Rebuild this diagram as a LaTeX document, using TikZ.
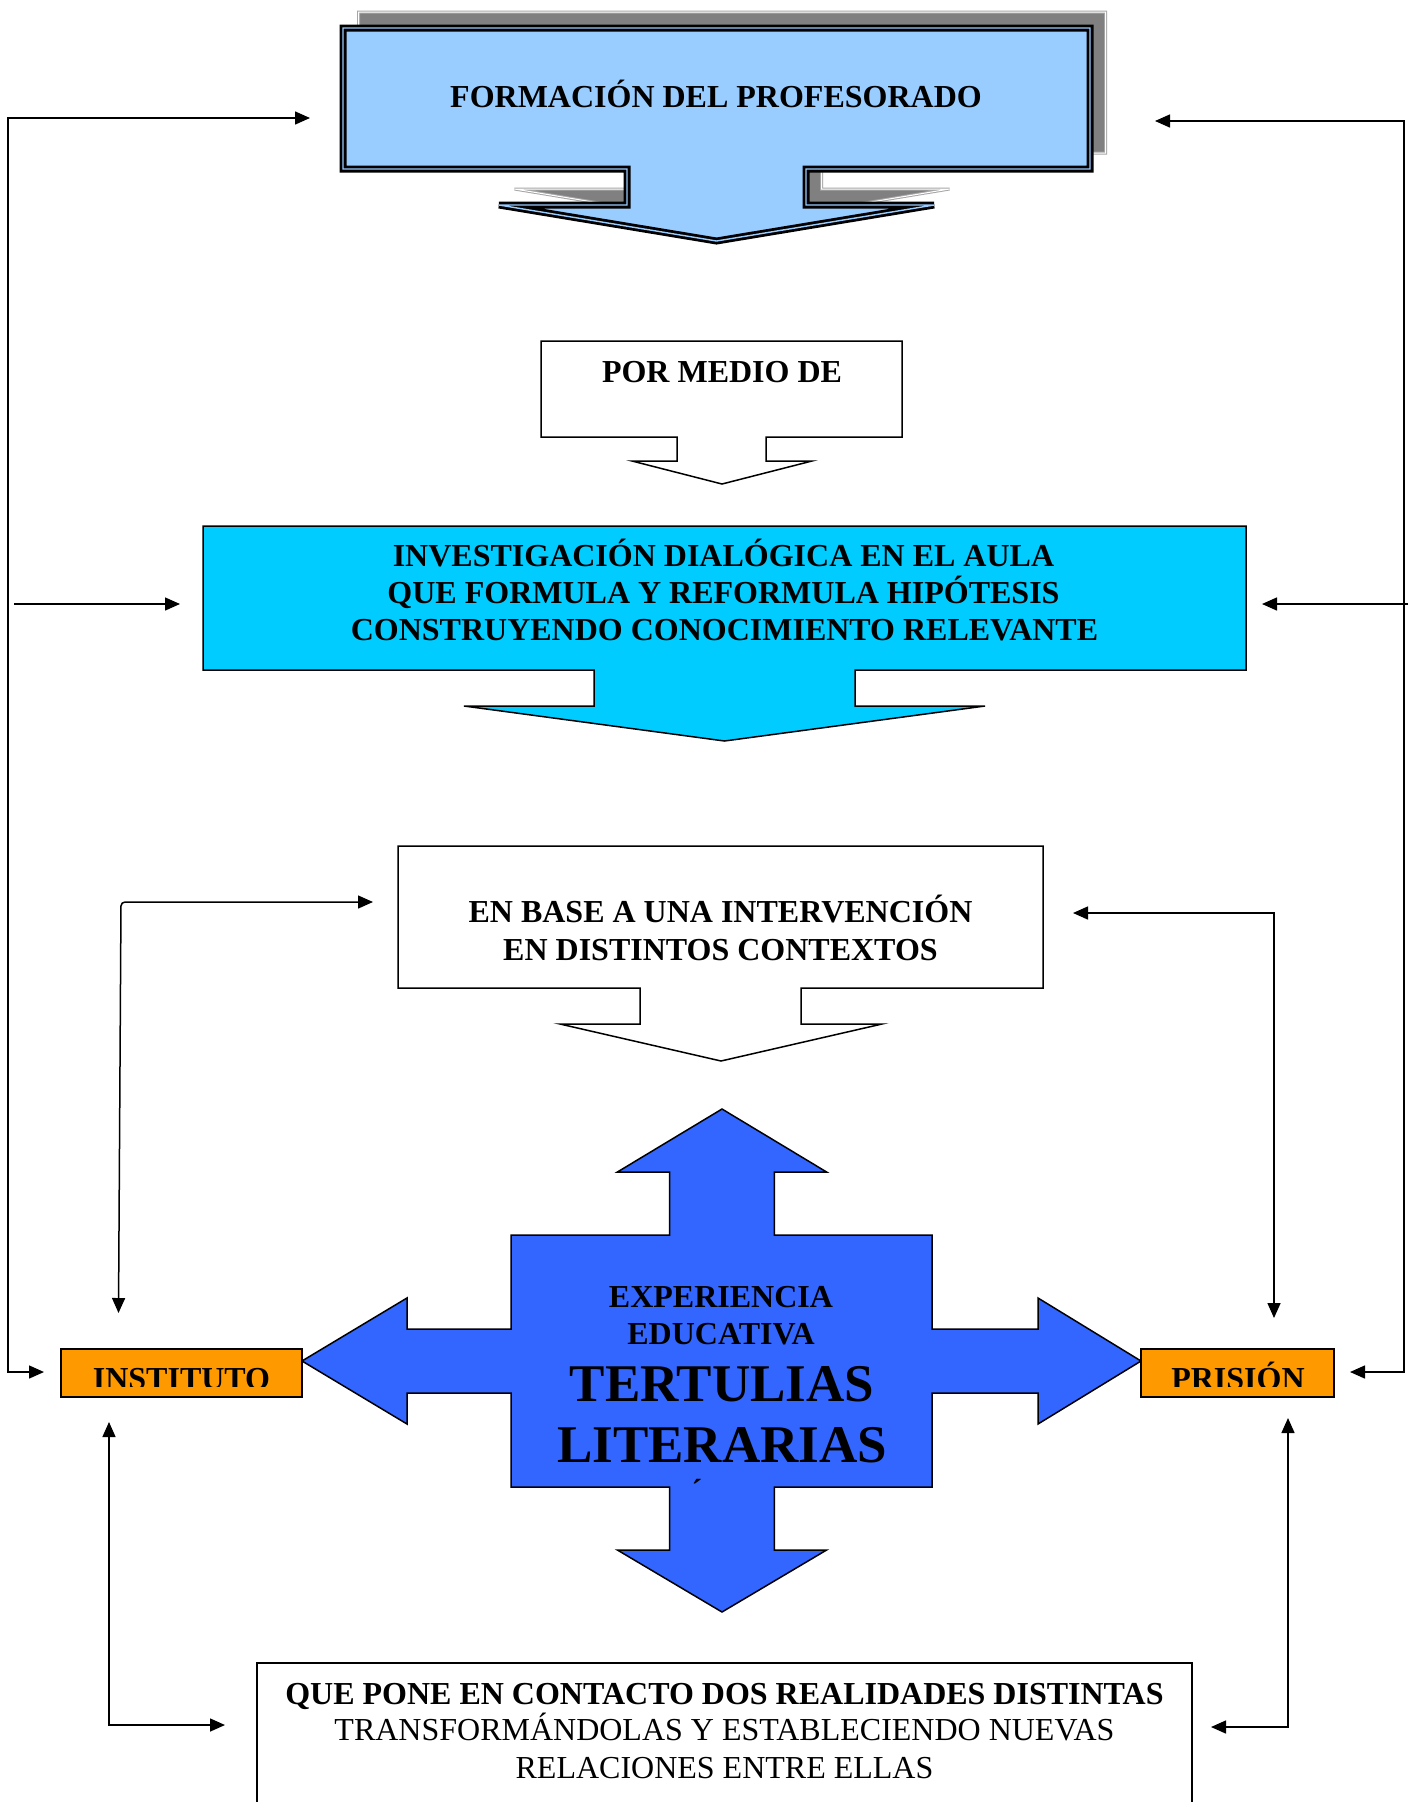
\documentclass[tikz,border=0pt]{standalone}
\usepackage{fontspec}
\setmainfont{Liberation Serif}
\usetikzlibrary{arrows.meta,calc}
\definecolor{callblue}{HTML}{99CCFF}
\definecolor{cyanbox}{HTML}{00CCFF}
\definecolor{crossblue}{HTML}{3366FF}
\definecolor{orangebox}{HTML}{FF9900}
\definecolor{shadowgray}{HTML}{808080}
\begin{document}
\begin{tikzpicture}[x=1pt,y=-1pt,
  conn/.style={line width=1.5pt,-{Triangle[length=15pt,width=13pt]}},
  biconn/.style={line width=1.5pt,{Triangle[length=15pt,width=13pt]}-{Triangle[length=15pt,width=13pt]}},
  plainshape/.style={draw=black,line width=1.5pt,line join=miter},
  txt/.style={font=\bfseries\fontsize{32}{38}\selectfont,anchor=base,inner sep=0pt},
  txtreg/.style={font=\fontsize{32}{38}\selectfont,anchor=base,inner sep=0pt},
  bigtxt/.style={font=\bfseries\fontsize{53}{60}\selectfont,anchor=base,inner sep=0pt},
  orangenode/.style={draw=black,fill=orangebox,line width=1.5pt,inner sep=0pt}
]
\clip (0,0) rectangle (1418,1802);
\fill[white] (0,0) rectangle (1418,1802);

% ---------- top callout: FORMACION DEL PROFESORADO ----------
\begin{scope}[shift={(15.5,-16)}]
\path[fill=shadowgray,draw=black!35,double=white,line width=1pt,double distance=1pt]
  (343,28) -- (1090,28) -- (1090,169) -- (806,169) -- (806,205) -- (934,205)
  -- (716.5,241) -- (499,205) -- (627,205) -- (627,169) -- (343,169) -- cycle;
\end{scope}
\path[fill=callblue,draw=black,double=callblue,line width=2.8pt,double distance=1.4pt,line join=miter]
  (343,28) -- (1090,28) -- (1090,169) -- (806,169) -- (806,205) -- (934,205)
  -- (716.5,241) -- (499,205) -- (627,205) -- (627,169) -- (343,169) -- cycle;
\node[txt] (tform) at (716,107) {FORMACIÓN DEL PROFESORADO};
\coordinate (form) at (716.5,98.5);

% ---------- POR MEDIO DE ----------
\path[plainshape,fill=white]
  (541,341) -- (902,341) -- (902,437) -- (766,437) -- (766,461) -- (812,461)
  -- (722,484) -- (632,461) -- (677,461) -- (677,437) -- (541,437) -- cycle;
\node[txt] (tpor) at (722,382) {POR MEDIO DE};

% ---------- INVESTIGACION ----------
\path[plainshape,fill=cyanbox]
  (203,526) -- (1246,526) -- (1246,670) -- (855,670) -- (855,706) -- (985,706)
  -- (724.5,741) -- (464,706) -- (594,706) -- (594,670) -- (203,670) -- cycle;
\node[txt] (tinv1) at (723.5,566) {INVESTIGACIÓN DIALÓGICA EN EL AULA};
\node[txt] (tinv2) at (723.5,603) {QUE FORMULA Y REFORMULA HIPÓTESIS};
\node[txt] (tinv3) at (724.5,640) {CONSTRUYENDO CONOCIMIENTO RELEVANTE};

% ---------- EN BASE A ----------
\path[plainshape,fill=white]
  (398,846) -- (1043,846) -- (1043,988) -- (801,988) -- (801,1024) -- (882,1024)
  -- (721,1061) -- (560,1024) -- (640,1024) -- (640,988) -- (398,988) -- cycle;
\node[txt] (tbase1) at (720.5,922) {EN BASE A UNA INTERVENCIÓN};
\node[txt] (tbase2) at (720.5,960) {EN DISTINTOS CONTEXTOS};

% ---------- central cross ----------
\path[plainshape,fill=crossblue]
  (722,1109) -- (826.6,1172) -- (774.3,1172) -- (774.3,1235) -- (932,1235)
  -- (932,1329) -- (1038,1329) -- (1038,1298) -- (1141,1361) -- (1038,1424)
  -- (1038,1393) -- (932,1393) -- (932,1487) -- (774.3,1487) -- (774.3,1550)
  -- (826.6,1550) -- (722,1612) -- (617.4,1550) -- (669.7,1550) -- (669.7,1487)
  -- (511,1487) -- (511,1393) -- (407,1393) -- (407,1424) -- (302,1361)
  -- (407,1298) -- (407,1329) -- (511,1329) -- (511,1235) -- (669.7,1235)
  -- (669.7,1172) -- (617.4,1172) -- cycle;
\node[txt] (texp1) at (721,1307) {EXPERIENCIA};
\node[txt] (texp2) at (721,1344) {EDUCATIVA};
\node[bigtxt] (tter) at (722,1401) {TERTULIAS};
\node[bigtxt] (tlit) at (722,1462) {LITERARIAS};
\node[txt] (tacc) at (697,1501) {\char"00B4};

% ---------- orange boxes ----------
\node[orangenode,minimum width=241pt,minimum height=48pt] (inst) at (181.5,1373) {};
\begin{scope}
\clip (62,1350) rectangle (301,1386);
\node[txt] (tinst) at (181.5,1389) {INSTITUTO};
\end{scope}
\node[orangenode,minimum width=193pt,minimum height=48pt] (pris) at (1237.5,1373) {};
\begin{scope}
\clip (1142,1350) rectangle (1333,1386);
\node[txt] (tpris) at (1238,1389) {PRISIÓN};
\end{scope}

% ---------- bottom box ----------
\path[plainshape,fill=white] (257,1820) -- (257,1663) -- (1192,1663) -- (1192,1820);
\node[txt] (tq1) at (724.5,1704) {QUE PONE EN CONTACTO DOS REALIDADES DISTINTAS};
\node[txtreg] (tq2) at (724.5,1740) {TRANSFORMÁNDOLAS Y ESTABLECIENDO NUEVAS};
\node[txtreg] (tq3) at (724.5,1778) {RELACIONES ENTRE ELLAS};

% ---------- connectors ----------
\coordinate (formL) at (310,118);
\coordinate (instL) at (44,1372);
\coordinate (formR) at (1155,121);
\coordinate (prisR) at (1350,1372);
\coordinate (invLs) at (14,604);
\coordinate (invL) at (180,604);
\coordinate (invRs) at (1408,604);
\coordinate (invR) at (1262,604);
\coordinate (baseL) at (373,902);
\coordinate (instT) at (118.5,1313);
\coordinate (baseR) at (1073,913);
\coordinate (prisT) at (1274,1318);
\coordinate (instB) at (109,1422);
\coordinate (relL) at (225,1725);
\coordinate (prisB) at (1288,1418);
\coordinate (relR) at (1211,1727);

\draw[biconn] (formL) -- (8,118) -- (8,1372) -- (instL);
\draw[conn] (invLs) -- (invL);
\draw[biconn] (formR) -- (1404,121) -- (1404,1372) -- (prisR);
\draw[conn] (invRs) -- (invR);
\draw[biconn,rounded corners=4pt] (baseL) -- (121,902) -- (instT);
\draw[biconn] (baseR) -- (1274,913) -- (prisT);
\draw[biconn] (instB) -- (109,1725) -- (relL);
\draw[biconn] (prisB) -- (1288,1727) -- (relR);
\end{tikzpicture}
\end{document}
